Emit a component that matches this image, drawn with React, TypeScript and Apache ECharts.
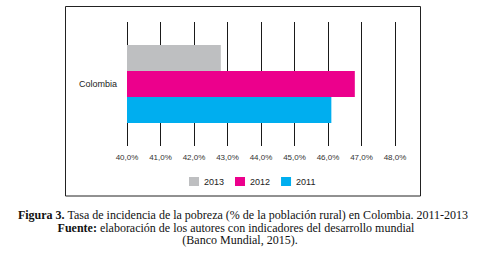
import React, { useEffect, useRef } from "react";
import * as echarts from "echarts";

const categories = ["Colombia"];
const seriesNames = ["2013", "2012", "2011"];
const values2013 = [42.8];
const values2012 = [46.8];
const values2011 = [46.1];
const seriesColors = ["#BEBFC1", "#EC008C", "#00AEEF"];
const axisMin = 40;
const axisMax = 48;
const axisInterval = 1;
const captionLine1Bold = "Figura 3.";
const captionLine1Rest = " Tasa de incidencia de la pobreza (% de la población rural) en Colombia. 2011-2013";
const captionLine2Bold = "Fuente:";
const captionLine2Rest = " elaboración de los autores con indicadores del desarrollo mundial";
const captionLine3 = "(Banco Mundial, 2015).";

export default function App() {
  const ref = useRef<HTMLDivElement>(null);
  useEffect(() => {
    if (!ref.current) return;
    const chart = echarts.init(ref.current, null, { renderer: "svg" });
    const seriesData = [values2013, values2012, values2011];
    const serif = "'Liberation Serif', 'Times New Roman', serif";
    const sans = "'Liberation Sans', Arial, sans-serif";
    chart.setOption({
      animation: false,
      backgroundColor: "#ffffff",
      grid: { left: 127, right: 90, top: 22, bottom: 110, containLabel: false },
      legend: {
        data: seriesNames,
        left: 189,
        top: 177,
        padding: 0,
        itemWidth: 10,
        itemHeight: 9,
        itemGap: 11,
        icon: "rect",
        textStyle: { fontFamily: sans, fontSize: 9, color: "#222" },
      },
      xAxis: {
        type: "value",
        min: axisMin,
        max: axisMax,
        interval: axisInterval,
        axisLine: { show: false },
        axisTick: { show: false },
        splitLine: { show: true, lineStyle: { color: "#1a1a1a", width: 1 } },
        axisLabel: {
          margin: 7,
          fontFamily: sans,
          fontSize: 8,
          color: "#333",
          formatter: (v: number) => v.toFixed(1).replace(".", ",") + "%",
        },
      },
      yAxis: {
        type: "category",
        data: categories,
        axisLine: { show: false },
        axisTick: { show: false },
        axisLabel: { margin: 10, fontFamily: sans, fontSize: 9, color: "#222" },
      },
      series: seriesNames.map((name, i) => ({
        name,
        type: "bar",
        data: seriesData[i],
        barWidth: 26,
        barGap: "0%",
        itemStyle: { color: seriesColors[i] },
      })),
      graphic: [
        {
          type: "rect",
          shape: { x: 65.5, y: 6.5, width: 355, height: 189.5 },
          style: { fill: "none", stroke: "#222", lineWidth: 1 },
          silent: true,
          z: 10,
        },
        {
          type: "text",
          x: 243,
          y: 215,
          style: {
            text: "{b|" + captionLine1Bold + "}{n|" + captionLine1Rest + "}",
            align: "center",
            verticalAlign: "middle",
            rich: {
              b: { fontFamily: serif, fontSize: 12, fontWeight: "bold", fill: "#111" },
              n: { fontFamily: serif, fontSize: 12, fill: "#111" },
            },
          },
        },
        {
          type: "text",
          x: 236,
          y: 227.5,
          style: {
            text: "{b|" + captionLine2Bold + "}{n|" + captionLine2Rest + "}",
            align: "center",
            verticalAlign: "middle",
            rich: {
              b: { fontFamily: serif, fontSize: 12, fontWeight: "bold", fill: "#111" },
              n: { fontFamily: serif, fontSize: 12, fill: "#111" },
            },
          },
        },
        {
          type: "text",
          x: 240,
          y: 240,
          style: {
            text: captionLine3,
            align: "center",
            verticalAlign: "middle",
            fontFamily: serif,
            fontSize: 12,
            fill: "#111",
          },
        },
      ],
    });
    return () => chart.dispose();
  }, []);
  return (
    <div
      ref={ref}
      style={{ position: "fixed", left: 0, top: 0, width: 485, height: 256, background: "#fff" }}
    />
  );
}
